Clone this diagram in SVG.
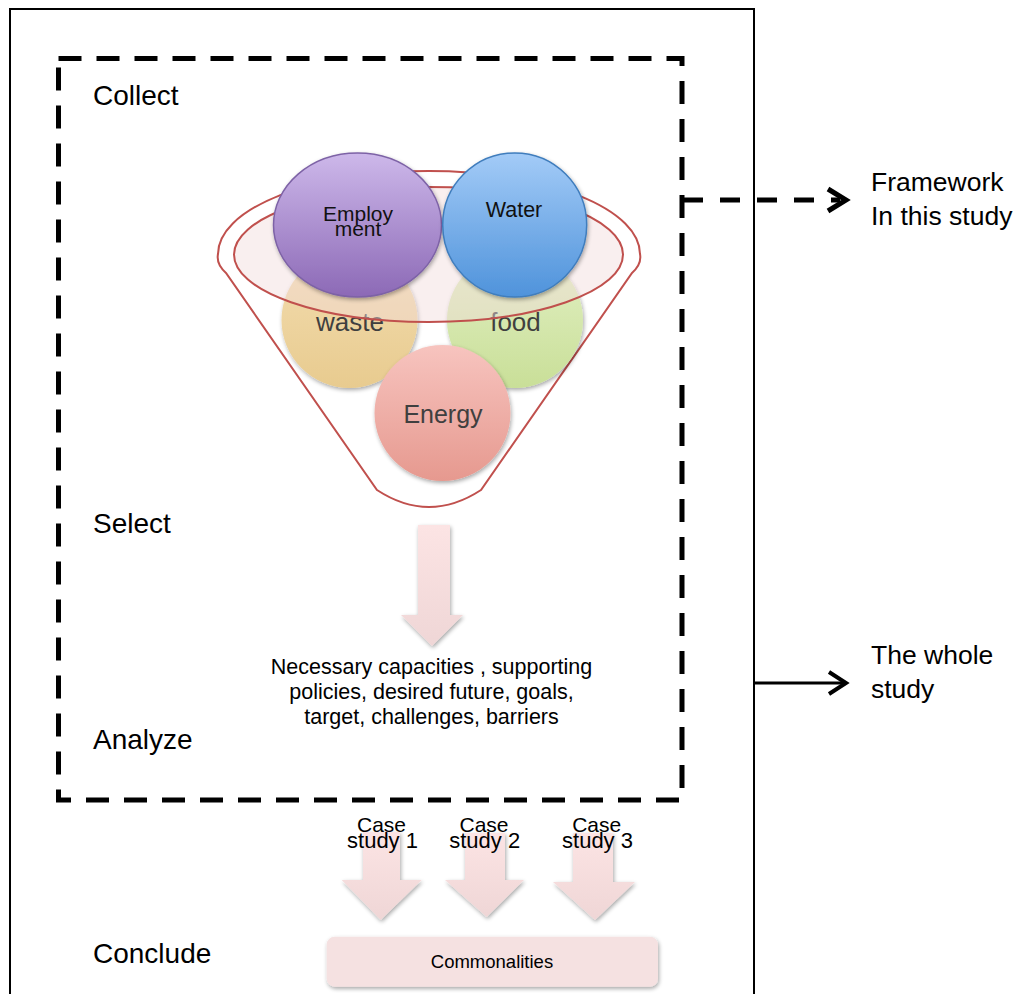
<svg xmlns="http://www.w3.org/2000/svg" width="1018" height="994" viewBox="0 0 1018 994">
<style>
text{font-family:"Liberation Sans",Arial,sans-serif;fill:#000}
.lbl{font-size:28px}
.side{font-size:26.5px}
.ball{font-size:25px;fill:#3f3f3f;text-anchor:middle}
.top{font-size:21px;fill:#111;text-anchor:middle}
.mid{text-anchor:middle}
.red{fill:none;stroke:#c0504d;stroke-width:2}
.blk{fill:none;stroke:#000}
.parr{fill:url(#gArr);filter:url(#sh)}
</style>
<defs>
<linearGradient id="gEmp" x1="0" y1="0" x2="0" y2="1"><stop offset="0" stop-color="#cdb8ea"/><stop offset="1" stop-color="#8c69b6"/></linearGradient>
<linearGradient id="gWat" x1="0" y1="0" x2="0" y2="1"><stop offset="0" stop-color="#a3cbf7"/><stop offset="1" stop-color="#4f93db"/></linearGradient>
<linearGradient id="gWas" x1="0" y1="0" x2="0" y2="1"><stop offset="0" stop-color="#f3ddb0"/><stop offset="1" stop-color="#e8cb8f"/></linearGradient>
<linearGradient id="gFoo" x1="0" y1="0" x2="0" y2="1"><stop offset="0" stop-color="#e2f0c4"/><stop offset="1" stop-color="#c9df98"/></linearGradient>
<linearGradient id="gEne" x1="0" y1="0" x2="0" y2="1"><stop offset="0" stop-color="#f7c4bf"/><stop offset="1" stop-color="#e6998f"/></linearGradient>
<linearGradient id="gArr" x1="0" y1="0" x2="0" y2="1"><stop offset="0" stop-color="#fce4e4"/><stop offset="1" stop-color="#efd6d6"/></linearGradient>
<filter id="sh" x="-20%" y="-20%" width="150%" height="150%"><feGaussianBlur in="SourceAlpha" stdDeviation="2"/><feOffset dx="1" dy="2"/><feComponentTransfer><feFuncA type="linear" slope="0.35"/></feComponentTransfer><feMerge><feMergeNode/><feMergeNode in="SourceGraphic"/></feMerge></filter>
</defs>

<g id="frame">
<path class="blk" stroke-width="2" d="M10,1000 V9 H754 V1000"/>
<rect class="blk" x="58.5" y="58.5" width="623.5" height="741.5" stroke-width="5" stroke-dasharray="23 15"/>
</g>

<g id="labels">
<text class="lbl" x="93" y="105">Collect</text>
<text class="lbl" x="93" y="533">Select</text>
<text class="lbl" x="93" y="749">Analyze</text>
<text class="lbl" x="93" y="963">Conclude</text>
</g>

<g id="funnel">
<path class="red" d="M226,273 Q216,264 218,254 A211 83 0 0 1 640,254 Q642,264 632,273 L481,490 Q429,524 377,490 Z"/>
</g>

<g id="waste">
<circle cx="349.5" cy="320" r="68" fill="url(#gWas)" filter="url(#sh)"/>
<text class="ball" x="350" y="331" style="font-size:26px">waste</text>
</g>
<g id="food">
<circle cx="515" cy="320" r="68" fill="url(#gFoo)" filter="url(#sh)"/>
<text class="ball" x="515.5" y="331" style="font-size:26px">food</text>
</g>
<g id="energy">
<circle cx="442.5" cy="413" r="68" fill="url(#gEne)" filter="url(#sh)"/>
<text class="ball" x="443" y="423">Energy</text>
</g>

<g id="funnel-rim">
<ellipse cx="428.5" cy="254.5" rx="194.5" ry="67.5" fill="#f2dcdb" fill-opacity="0.45" stroke="#c0504d" stroke-width="2"/>
</g>

<g id="employment">
<ellipse cx="357.5" cy="225" rx="84" ry="72" fill="url(#gEmp)" stroke="#7d62a6" stroke-width="1.5" filter="url(#sh)"/>
<text class="top" x="358" y="221">Employ</text>
<text class="top" x="358" y="236">ment</text>
</g>
<g id="water">
<circle cx="514.7" cy="225" r="72" fill="url(#gWat)" stroke="#3f7dbd" stroke-width="1.5" filter="url(#sh)"/>
<text class="top" x="514" y="217" style="font-size:21.5px">Water</text>
</g>

<g id="select-arrow">
<path class="parr" d="M418,525 H450 V615 H463 L432,646 L401,615 H418 Z"/>
</g>
<g id="analysis">
<text class="mid" style="font-size:21.5px" x="431.5" y="674">Necessary capacities , supporting</text>
<text class="mid" style="font-size:21.5px" x="431.5" y="699">policies, desired future, goals,</text>
<text class="mid" style="font-size:21.5px" x="431.5" y="724">target, challenges, barriers</text>
</g>

<g id="case1">
<path class="parr" d="M363,832 H400 V880 H421.7 L380.7,920 L341.7,880 H363 Z"/>
<text class="mid" style="font-size:21px" x="381.5" y="832">Case</text>
<text class="mid" style="font-size:22px" x="382.5" y="848">study 1</text>
</g>
<g id="case2">
<path class="parr" d="M465,833 H505 V880 H524 L486.7,917 L445,880 H465 Z"/>
<text class="mid" style="font-size:21px" x="484" y="832">Case</text>
<text class="mid" style="font-size:22px" x="484.7" y="848">study 2</text>
</g>
<g id="case3">
<path class="parr" d="M573,833 H613 V882 H635 L595,920 L553,882 H573 Z"/>
<text class="mid" style="font-size:21px" x="596.7" y="832">Case</text>
<text class="mid" style="font-size:22px" x="597.5" y="848">study 3</text>
</g>

<g id="commonalities">
<rect x="326.7" y="936.7" width="331.3" height="50" rx="8" fill="#f5e1e1" filter="url(#sh)"/>
<text class="mid" style="font-size:18.5px" x="492" y="968">Commonalities</text>
</g>

<g id="connectors">
<line class="blk" x1="683" y1="200" x2="840" y2="200" stroke-width="5" stroke-dasharray="20 17"/>
<polyline class="blk" points="828,189 846,200 828,211" stroke-width="5"/>
<line class="blk" x1="754" y1="683" x2="845" y2="683" stroke-width="3"/>
<polyline class="blk" points="829,672 846,683 829,694" stroke-width="4"/>
</g>

<g id="side-labels">
<text class="side" x="871" y="191">Framework</text>
<text class="side" x="871" y="225">In this study</text>
<text class="side" x="871" y="664">The whole</text>
<text class="side" x="871" y="698">study</text>
</g>
</svg>
